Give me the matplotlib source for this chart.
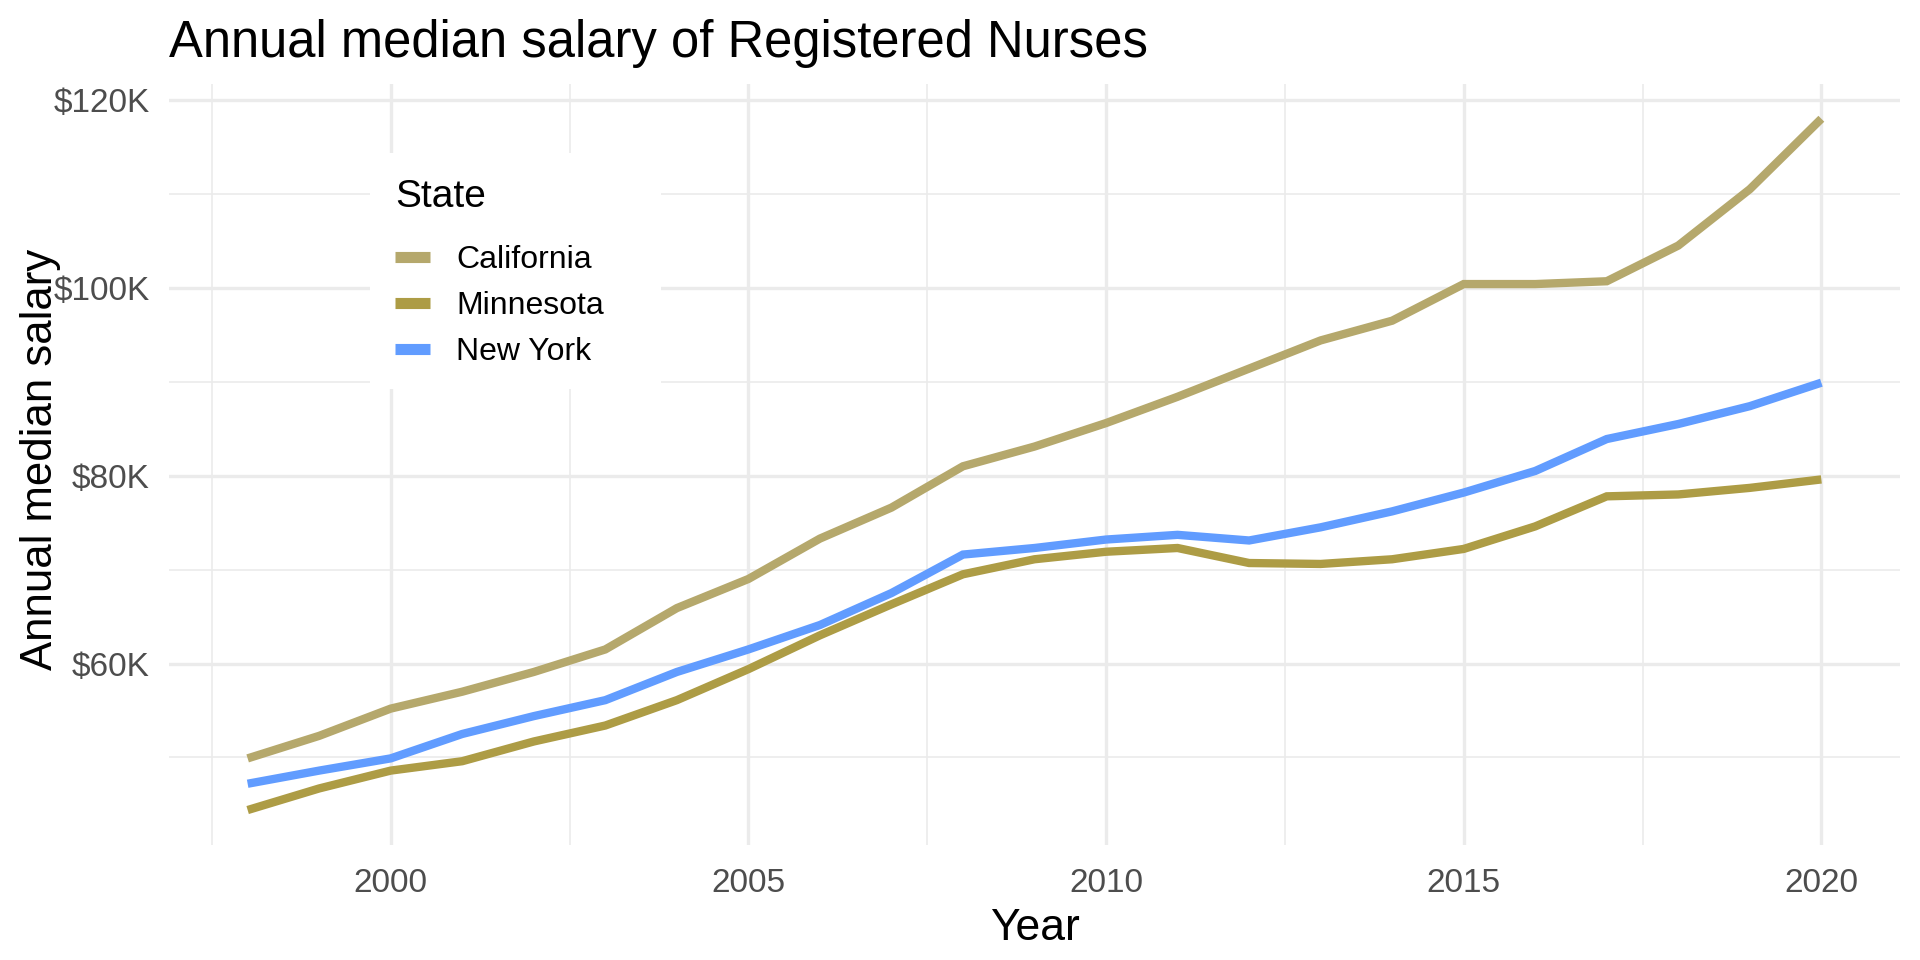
import matplotlib
matplotlib.use('Agg')
import matplotlib.pyplot as plt
from matplotlib.patches import Rectangle
from matplotlib.ticker import FuncFormatter, MultipleLocator

plt.rcParams['font.family'] = ['Liberation Sans', 'DejaVu Sans']

years = list(range(1998, 2021))

# annual median salary, thousands of dollars
california = [49.9, 52.3, 55.2, 57.0, 59.1, 61.5, 65.9, 69.0, 73.3, 76.6, 81.0, 83.1,
              85.6, 88.4, 91.4, 94.4, 96.5, 100.4, 100.4, 100.7, 104.5, 110.5, 118.0]
minnesota = [44.4, 46.7, 48.6, 49.6, 51.7, 53.4, 56.1, 59.4, 63.0, 66.3, 69.5, 71.1,
             71.9, 72.3, 70.7, 70.6, 71.1, 72.2, 74.6, 77.8, 78.0, 78.7, 79.6]
new_york = [47.2, 48.6, 49.9, 52.5, 54.4, 56.1, 59.1, 61.5, 64.1, 67.5, 71.6, 72.3,
            73.2, 73.7, 73.1, 74.5, 76.2, 78.2, 80.5, 83.9, 85.5, 87.4, 89.9]

states = ['California', 'Minnesota', 'New York']
series = [california, minnesota, new_york]
colors = ['#B5A86C', '#AD9C45', '#619CFF']

fig = plt.figure(figsize=(19.2, 9.6), dpi=100)
ax = fig.add_axes([0.088, 0.12, 0.9016, 0.7925])

for name, vals, c in zip(states, series, colors):
    ax.plot(years, [v * 1000 for v in vals], color=c, lw=6, label=name,
            solid_capstyle='butt', solid_joinstyle='miter')

# ggplot style expansion 5%
ax.set_xlim(1996.9, 2021.1)
ax.set_ylim(40700, 121700)
ax.set_xticks([2000, 2005, 2010, 2015, 2020])
ax.xaxis.set_minor_locator(MultipleLocator(2.5))
ax.set_yticks([60000, 80000, 100000, 120000])
ax.yaxis.set_minor_locator(MultipleLocator(10000))
ax.yaxis.set_major_formatter(FuncFormatter(lambda v, p: '$%dK' % (v / 1000)))

ax.grid(which='major', color='#EBEBEB', lw=2.4)
ax.grid(which='minor', color='#EBEBEB', lw=1.2)
ax.set_axisbelow(True)
for s in ax.spines.values():
    s.set_visible(False)
ax.tick_params(which='both', length=0)
ax.tick_params(axis='y', labelsize=24, labelcolor='#4D4D4D', pad=14)
ax.tick_params(axis='x', labelsize=24, labelcolor='#4D4D4D', pad=17)

ax.set_xlabel('Year', fontsize=32)
ax.xaxis.set_label_coords(0.5, -0.083)
ax.set_ylabel('Annual median salary', fontsize=31.5)
ax.yaxis.set_label_coords(-0.0624, 0.506)
fig.text(0.088, 0.955, 'Annual median salary of Registered Nurses', fontsize=36.5,
         ha='left', va='center')

# white legend background (hides the grid like ggplot's legend box)
ax.add_patch(Rectangle((0.116, 0.599), 0.168, 0.31, transform=ax.transAxes,
                       facecolor='white', edgecolor='none', zorder=1.5))

leg = ax.legend(title='State', loc='upper left', bbox_to_anchor=(0.116, 0.909),
                borderaxespad=0, fontsize=23, title_fontsize=28, frameon=False,
                handlelength=1.1, borderpad=0.8, labelspacing=0.5, handletextpad=0.8)
leg._legend_box.align = 'left'
leg._legend_box.sep = 22
for h in leg.get_lines():
    h.set_linewidth(8)

fig.savefig('out.png', dpi=100, facecolor='white')
